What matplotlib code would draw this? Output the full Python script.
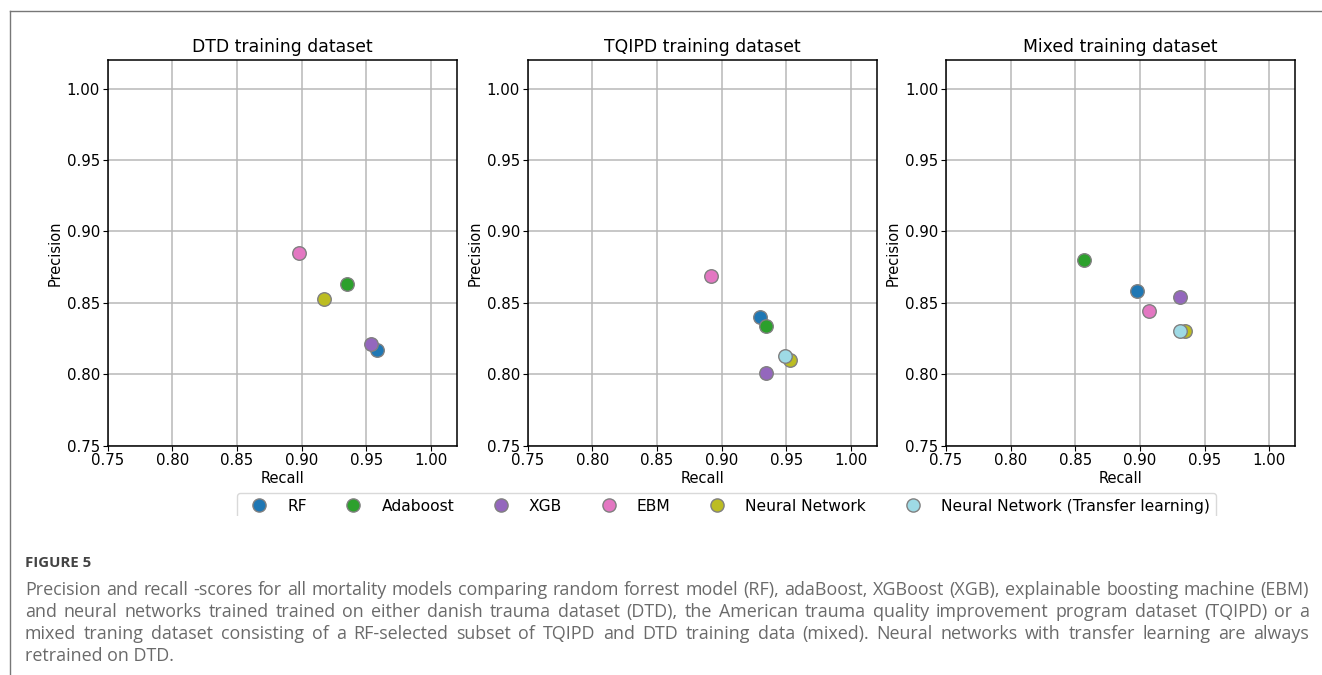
import matplotlib
matplotlib.use("Agg")
import matplotlib.pyplot as plt
import numpy as np
from matplotlib.lines import Line2D
from matplotlib.transforms import Bbox, TransformedBbox

W, H, DPI = 1322, 675, 100

TITLES = ["DTD training dataset", "TQIPD training dataset", "Mixed training dataset"]
MODELS = ["RF", "Adaboost", "XGB", "EBM", "Neural Network",
          "Neural Network (Transfer learning)"]
COLORS = ["#1f77b4", "#2ca02c", "#9467bd", "#e377c2", "#bcbd22", "#9edae5"]

# recall / precision per panel, in MODELS order (nan = not shown)
DTD_RECALL = [0.958, 0.935, 0.954, 0.898, 0.917, np.nan]
DTD_PRECISION = [0.817, 0.863, 0.821, 0.885, 0.853, np.nan]
TQIPD_RECALL = [0.930, 0.934, 0.934, 0.892, 0.953, 0.949]
TQIPD_PRECISION = [0.840, 0.834, 0.801, 0.869, 0.810, 0.813]
MIXED_RECALL = [0.898, 0.857, 0.931, 0.907, 0.935, 0.931]
MIXED_PRECISION = [0.858, 0.880, 0.854, 0.844, 0.830, 0.830]

TICKS = [0.75, 0.80, 0.85, 0.90, 0.95, 1.00]

CAPTION_HEAD = "FIGURE 5"
CAPTION_LINES = [
    "Precision and recall -scores for all mortality models comparing random forrest model (RF), adaBoost, XGBoost (XGB), explainable boosting machine (EBM)",
    "and neural networks trained trained on either danish trauma dataset (DTD), the American trauma quality improvement program dataset (TQIPD) or a",
    "mixed traning dataset consisting of a RF-selected subset of TQIPD and DTD training data (mixed). Neural networks with transfer learning are always",
    "retrained on DTD.",
]

panels = [(DTD_RECALL, DTD_PRECISION),
          (TQIPD_RECALL, TQIPD_PRECISION),
          (MIXED_RECALL, MIXED_PRECISION)]

fig = plt.figure(figsize=(W / DPI, H / DPI), dpi=DPI)

lefts = [107.7, 527.7, 946.0]
ax_w, ax_top, ax_bot = 349.0, 60.0, 445.7
axes = []
for k, (left, title, (rec, prec)) in enumerate(zip(lefts, TITLES, panels)):
    ax = fig.add_axes([left / W, 1 - ax_bot / H, ax_w / W, (ax_bot - ax_top) / H])
    for m, (name, col) in enumerate(zip(MODELS, COLORS)):
        ax.scatter(rec[m], prec[m], s=95, color=col, edgecolors="#808080",
                   linewidths=1.0, label=name, zorder=3)
    ax.set_xlim(0.75, 1.02)
    ax.set_ylim(0.75, 1.02)
    ax.set_xticks(TICKS)
    ax.set_yticks(TICKS)
    ax.set_xticklabels([f"{t:.2f}" for t in TICKS])
    ax.set_yticklabels([f"{t:.2f}" for t in TICKS])
    ax.tick_params(labelsize=10.8, pad=2)
    ax.grid(True, color="#b8b8b8", linewidth=1.1)
    ax.set_axisbelow(True)
    for sp in ax.spines.values():
        sp.set_linewidth(1.1)
    ax.set_title(title, fontsize=12.4, pad=6)
    ax.set_xlabel("Recall", fontsize=10.5, labelpad=2)
    ax.set_ylabel("Precision", fontsize=10.5, labelpad=3)
    axes.append(ax)

handles = [Line2D([], [], marker="o", linestyle="none", markersize=9.5,
                  markerfacecolor=c, markeredgecolor="#808080", markeredgewidth=1.0)
           for c in COLORS]
leg = fig.legend(handles, MODELS, loc="upper center", ncol=6, fontsize=11.2,
                 bbox_to_anchor=(726.5 / W, 1 - 492.5 / H), columnspacing=2.0,
                 frameon=True, fancybox=True, borderaxespad=0)
frame = leg.get_frame()
frame.set_edgecolor("#d0d0d0")
frame.set_clip_on(True)
frame.set_clip_box(TransformedBbox(Bbox([[0, 1 - 516 / H], [1, 1]]),
                                   fig.transFigure))

# page frame
fig.add_artist(Line2D([9.5 / W, 1], [1 - 10.5 / H, 1 - 10.5 / H],
                      transform=fig.transFigure, color="#777777", linewidth=1.0))
fig.add_artist(Line2D([9.5 / W, 9.5 / W], [0, 1 - 10.5 / H],
                      transform=fig.transFigure, color="#777777", linewidth=1.0))

# caption
fig.text(25 / W, 1 - 563 / H, CAPTION_HEAD, fontsize=10.8, fontweight="bold",
         color="#444444", family="Open Sans", va="center")

renderer = fig.canvas.get_renderer()
x0, x1 = 25.0, 1309.0
line_y = [590, 612, 634, 656]
for i, line in enumerate(CAPTION_LINES):
    words = line.split(" ")
    y = 1 - line_y[i] / H
    kw = dict(fontsize=12.9, color="#6a6a6a", family="Open Sans", va="center")
    if i == len(CAPTION_LINES) - 1:
        fig.text(x0 / W, y, line, **kw)
        continue
    txts = [fig.text(0, y, w, **kw) for w in words]
    widths = [t.get_window_extent(renderer).width for t in txts]
    gap = (x1 - x0 - sum(widths)) / (len(words) - 1)
    x = x0
    for t, wd in zip(txts, widths):
        t.set_x(x / W)
        x += wd + gap

fig.savefig("out.png", dpi=DPI)
